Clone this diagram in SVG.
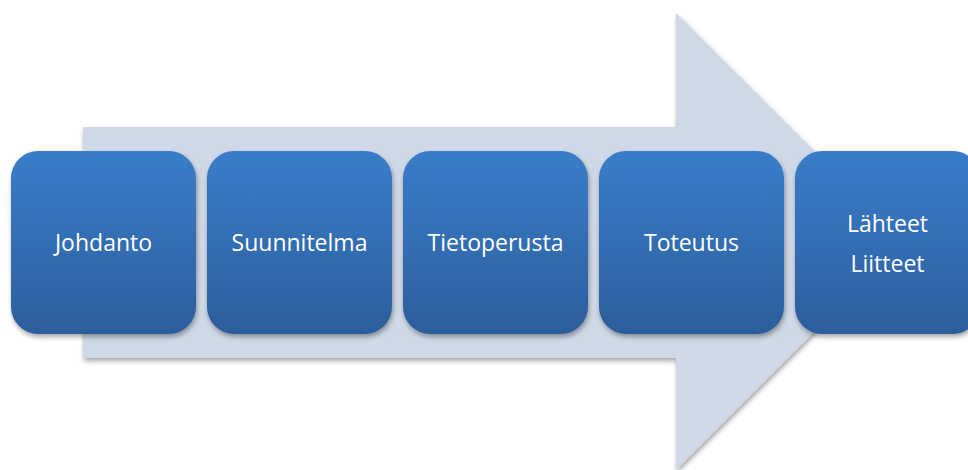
<svg xmlns="http://www.w3.org/2000/svg" width="968" height="470" viewBox="0 0 968 470">
<defs>
<linearGradient id="g" x1="0" y1="0" x2="0" y2="1">
<stop offset="0" stop-color="#3a7dca"/>
<stop offset="1" stop-color="#2c5e9c"/>
</linearGradient>
<filter id="sh" x="-10%" y="-10%" width="125%" height="125%">
<feGaussianBlur in="SourceAlpha" stdDeviation="2.5"/>
<feOffset dx="1" dy="3" result="b"/>
<feComponentTransfer><feFuncA type="linear" slope="0.35"/></feComponentTransfer>
<feMerge><feMergeNode/><feMergeNode in="SourceGraphic"/></feMerge>
</filter>
</defs>
<style>
.box{fill:url(#g);filter:url(#sh)}
.t{font-family:"Open Sans","Noto Sans","Liberation Sans",sans-serif;font-size:23px;fill:#ffffff;text-anchor:middle}
</style>
<rect width="968" height="470" fill="#ffffff"/>
<g id="arrow">
<polygon points="83,127 676,127 676,13 905,241 676,470 676,358 83,358" fill="#cfd8e6" filter="url(#sh)"/>
</g>
<g id="n1"><rect class="box" x="11" y="151" width="185" height="183" rx="27"/><text class="t" x="103.5" y="251">Johdanto</text></g>
<g id="n2"><rect class="box" x="207" y="151" width="185" height="183" rx="27"/><text class="t" x="299.5" y="251">Suunnitelma</text></g>
<g id="n3"><rect class="box" x="403" y="151" width="185" height="183" rx="27"/><text class="t" x="495.5" y="251">Tietoperusta</text></g>
<g id="n4"><rect class="box" x="599" y="151" width="185" height="183" rx="27"/><text class="t" x="691.5" y="251">Toteutus</text></g>
<g id="n5"><rect class="box" x="795" y="151" width="185" height="183" rx="27"/><text class="t" x="887.5" y="232">Lähteet</text><text class="t" x="887.5" y="272">Liitteet</text></g>
<g id="connectors"></g>
</svg>
